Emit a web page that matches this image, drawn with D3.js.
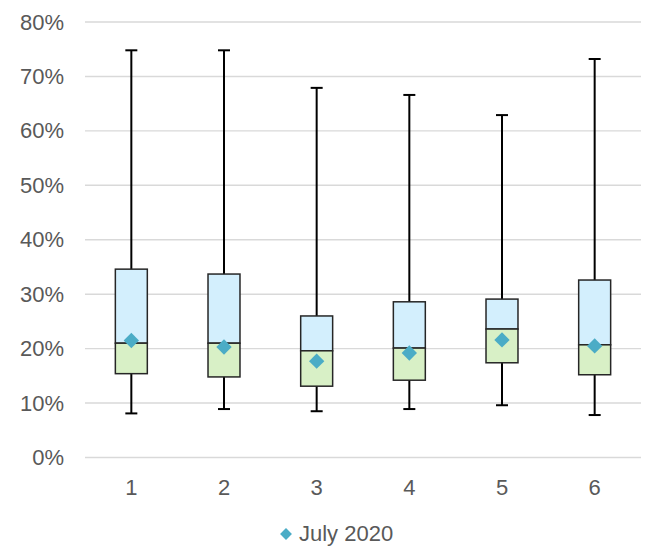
<!DOCTYPE html>
<html>
  <head>
    <script src="https://d3js.org/d3.v7.min.js"></script>
    <style>
      body { margin: 0; background: #fff; }
      text { font-family: "Liberation Sans", Arial, sans-serif; fill: #595959; }
    </style>
  </head>
  <body>
    <svg width="648" height="546"></svg>
    <script>
      // box plot data, values in percent
      const categories = ["1", "2", "3", "4", "5", "6"];
      const minVals = [8.1, 8.9, 8.5, 8.9, 9.6, 7.8];
      const q1Vals = [15.4, 14.8, 13.1, 14.2, 17.4, 15.2];
      const medianVals = [21.0, 21.0, 19.6, 20.1, 23.6, 20.7];
      const q3Vals = [34.6, 33.7, 26.0, 28.6, 29.1, 32.6];
      const maxVals = [74.8, 74.8, 67.9, 66.6, 62.9, 73.2];
      const meanVals = [21.5, 20.3, 17.7, 19.2, 21.6, 20.5];
      const yTicks = [0, 10, 20, 30, 40, 50, 60, 70, 80];
      const legendLabel = "July 2020";

      const svg = d3.select("svg");

      const x = d3.scaleBand()
          .domain(categories)
          .range([85, 641])
          .paddingInner(0.655)
          .paddingOuter(0.3275);

      const y = d3.scaleLinear()
          .domain([0, 80])
          .range([457.5, 22]);

      // gridlines
      svg.append("g")
        .selectAll("line")
        .data(yTicks)
        .enter()
        .append("line")
          .attr("x1", 85)
          .attr("x2", 641)
          .attr("y1", d => y(d))
          .attr("y2", d => y(d))
          .attr("stroke", "#d9d9d9")
          .attr("stroke-width", 1.4);

      // y axis labels
      const yAxis = svg.append("g")
          .attr("transform", "translate(85,0)")
          .call(d3.axisLeft(y).tickValues(yTicks).tickSize(0).tickPadding(21).tickFormat(d => d + "%"));
      yAxis.select(".domain").remove();
      yAxis.selectAll("text").style("font-size", "22px").attr("fill", "#595959");

      // x axis labels
      const xAxis = svg.append("g")
          .attr("transform", `translate(0,${y(0)})`)
          .call(d3.axisBottom(x).tickSize(0).tickPadding(22));
      xAxis.select(".domain").remove();
      xAxis.selectAll("text").style("font-size", "22px").attr("fill", "#595959");

      const boxes = categories.map((c, i) => ({
        cat: c, min: minVals[i], q1: q1Vals[i], med: medianVals[i],
        q3: q3Vals[i], max: maxVals[i], mean: meanVals[i]
      }));

      const bw = x.bandwidth();
      const cx = d => x(d.cat) + bw / 2;
      const g = svg.append("g");

      // whiskers
      g.selectAll(".whisker")
        .data(boxes)
        .enter()
        .append("line")
          .attr("x1", cx).attr("x2", cx)
          .attr("y1", d => y(d.max)).attr("y2", d => y(d.min))
          .attr("stroke", "#000").attr("stroke-width", 2);

      ["max", "min"].forEach(k => {
        g.selectAll(".cap-" + k)
          .data(boxes)
          .enter()
          .append("line")
            .attr("x1", d => cx(d) - 6).attr("x2", d => cx(d) + 6)
            .attr("y1", d => y(d[k])).attr("y2", d => y(d[k]))
            .attr("stroke", "#000").attr("stroke-width", 2);
      });

      // upper box (median to q3)
      g.selectAll(".upper")
        .data(boxes)
        .enter()
        .append("rect")
          .attr("x", d => x(d.cat))
          .attr("y", d => y(d.q3))
          .attr("width", bw)
          .attr("height", d => y(d.med) - y(d.q3))
          .attr("fill", "#d3effd")
          .attr("stroke", "#262626").attr("stroke-width", 1.5);

      // lower box (q1 to median)
      g.selectAll(".lower")
        .data(boxes)
        .enter()
        .append("rect")
          .attr("x", d => x(d.cat))
          .attr("y", d => y(d.med))
          .attr("width", bw)
          .attr("height", d => y(d.q1) - y(d.med))
          .attr("fill", "#d8f0c6")
          .attr("stroke", "#262626").attr("stroke-width", 1.5);

      // mean markers
      const diamond = d3.symbol().type(d3.symbolDiamond2).size(150);
      g.selectAll(".mean")
        .data(boxes)
        .enter()
        .append("path")
          .attr("d", diamond)
          .attr("transform", d => `translate(${cx(d)},${y(d.mean)})`)
          .attr("fill", "#4bacc6");

      // legend
      const legend = svg.append("g").attr("transform", "translate(286,534)");
      legend.append("path")
          .attr("d", d3.symbol().type(d3.symbolDiamond2).size(90))
          .attr("fill", "#4bacc6");
      legend.append("text")
          .attr("x", 13)
          .attr("y", 7)
          .style("font-size", "22px")
          .text(legendLabel);
    </script>
  </body>
</html>
